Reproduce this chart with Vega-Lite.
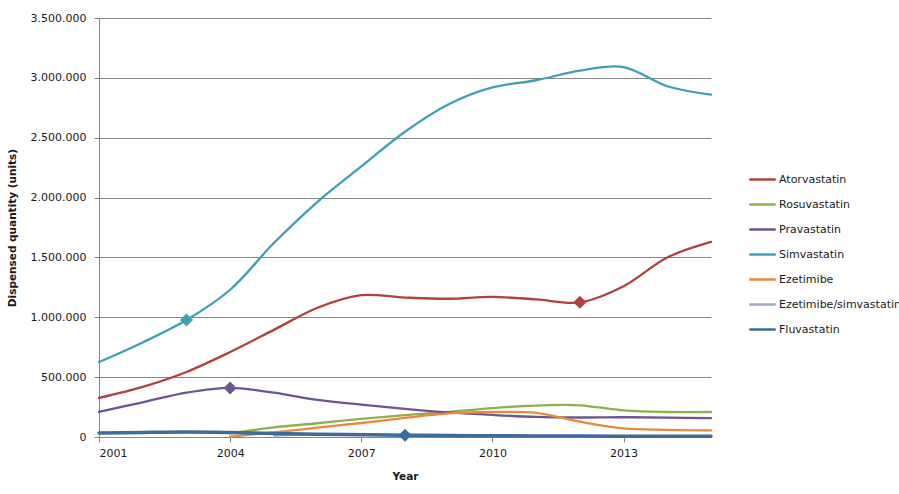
{
  "$schema": "https://vega.github.io/schema/vega-lite/v6.json",
  "autosize": {"type": "none"},
  "width": 612,
  "height": 419,
  "padding": {"left": 99, "top": 18, "right": 188, "bottom": 57},
  "background": "white",
  "datasets": {
    "dispensed": [
      {"year": 2001, "drug": "Atorvastatin", "qty": 326000},
      {"year": 2002, "drug": "Atorvastatin", "qty": 418000},
      {"year": 2003, "drug": "Atorvastatin", "qty": 543000},
      {"year": 2004, "drug": "Atorvastatin", "qty": 710000},
      {"year": 2005, "drug": "Atorvastatin", "qty": 895000},
      {"year": 2006, "drug": "Atorvastatin", "qty": 1080000},
      {"year": 2007, "drug": "Atorvastatin", "qty": 1185000},
      {"year": 2008, "drug": "Atorvastatin", "qty": 1165000},
      {"year": 2009, "drug": "Atorvastatin", "qty": 1155000},
      {"year": 2010, "drug": "Atorvastatin", "qty": 1170000},
      {"year": 2011, "drug": "Atorvastatin", "qty": 1150000},
      {"year": 2012, "drug": "Atorvastatin", "qty": 1125000, "marked": true},
      {"year": 2013, "drug": "Atorvastatin", "qty": 1260000},
      {"year": 2014, "drug": "Atorvastatin", "qty": 1500000},
      {"year": 2015, "drug": "Atorvastatin", "qty": 1630000},

      {"year": 2004, "drug": "Rosuvastatin", "qty": 30000},
      {"year": 2005, "drug": "Rosuvastatin", "qty": 80000},
      {"year": 2006, "drug": "Rosuvastatin", "qty": 115000},
      {"year": 2007, "drug": "Rosuvastatin", "qty": 152000},
      {"year": 2008, "drug": "Rosuvastatin", "qty": 183000},
      {"year": 2009, "drug": "Rosuvastatin", "qty": 209000},
      {"year": 2010, "drug": "Rosuvastatin", "qty": 242000},
      {"year": 2011, "drug": "Rosuvastatin", "qty": 262000},
      {"year": 2012, "drug": "Rosuvastatin", "qty": 265000},
      {"year": 2013, "drug": "Rosuvastatin", "qty": 222000},
      {"year": 2014, "drug": "Rosuvastatin", "qty": 209000},
      {"year": 2015, "drug": "Rosuvastatin", "qty": 209000},

      {"year": 2001, "drug": "Pravastatin", "qty": 209000},
      {"year": 2002, "drug": "Pravastatin", "qty": 290000},
      {"year": 2003, "drug": "Pravastatin", "qty": 370000},
      {"year": 2004, "drug": "Pravastatin", "qty": 410000, "marked": true},
      {"year": 2005, "drug": "Pravastatin", "qty": 370000},
      {"year": 2006, "drug": "Pravastatin", "qty": 310000},
      {"year": 2007, "drug": "Pravastatin", "qty": 270000},
      {"year": 2008, "drug": "Pravastatin", "qty": 235000},
      {"year": 2009, "drug": "Pravastatin", "qty": 205000},
      {"year": 2010, "drug": "Pravastatin", "qty": 184000},
      {"year": 2011, "drug": "Pravastatin", "qty": 168000},
      {"year": 2012, "drug": "Pravastatin", "qty": 163000},
      {"year": 2013, "drug": "Pravastatin", "qty": 165000},
      {"year": 2014, "drug": "Pravastatin", "qty": 162000},
      {"year": 2015, "drug": "Pravastatin", "qty": 158000},

      {"year": 2001, "drug": "Simvastatin", "qty": 626000},
      {"year": 2002, "drug": "Simvastatin", "qty": 790000},
      {"year": 2003, "drug": "Simvastatin", "qty": 977000, "marked": true},
      {"year": 2004, "drug": "Simvastatin", "qty": 1230000},
      {"year": 2005, "drug": "Simvastatin", "qty": 1620000},
      {"year": 2006, "drug": "Simvastatin", "qty": 1965000},
      {"year": 2007, "drug": "Simvastatin", "qty": 2260000},
      {"year": 2008, "drug": "Simvastatin", "qty": 2550000},
      {"year": 2009, "drug": "Simvastatin", "qty": 2780000},
      {"year": 2010, "drug": "Simvastatin", "qty": 2920000},
      {"year": 2011, "drug": "Simvastatin", "qty": 2980000},
      {"year": 2012, "drug": "Simvastatin", "qty": 3060000},
      {"year": 2013, "drug": "Simvastatin", "qty": 3090000},
      {"year": 2014, "drug": "Simvastatin", "qty": 2930000},
      {"year": 2015, "drug": "Simvastatin", "qty": 2860000},

      {"year": 2004, "drug": "Ezetimibe", "qty": 4000},
      {"year": 2005, "drug": "Ezetimibe", "qty": 38000},
      {"year": 2006, "drug": "Ezetimibe", "qty": 78000},
      {"year": 2007, "drug": "Ezetimibe", "qty": 117000},
      {"year": 2008, "drug": "Ezetimibe", "qty": 160000},
      {"year": 2009, "drug": "Ezetimibe", "qty": 198000},
      {"year": 2010, "drug": "Ezetimibe", "qty": 209000},
      {"year": 2011, "drug": "Ezetimibe", "qty": 202000},
      {"year": 2012, "drug": "Ezetimibe", "qty": 128000},
      {"year": 2013, "drug": "Ezetimibe", "qty": 72000},
      {"year": 2014, "drug": "Ezetimibe", "qty": 60000},
      {"year": 2015, "drug": "Ezetimibe", "qty": 55000},

      {"year": 2005, "drug": "Ezetimibe/simvastatin", "qty": 12000},
      {"year": 2006, "drug": "Ezetimibe/simvastatin", "qty": 20000},
      {"year": 2007, "drug": "Ezetimibe/simvastatin", "qty": 18000},
      {"year": 2008, "drug": "Ezetimibe/simvastatin", "qty": 14000},
      {"year": 2009, "drug": "Ezetimibe/simvastatin", "qty": 10000},
      {"year": 2010, "drug": "Ezetimibe/simvastatin", "qty": 8000},
      {"year": 2011, "drug": "Ezetimibe/simvastatin", "qty": 6000},
      {"year": 2012, "drug": "Ezetimibe/simvastatin", "qty": 5000},
      {"year": 2013, "drug": "Ezetimibe/simvastatin", "qty": 4000},
      {"year": 2014, "drug": "Ezetimibe/simvastatin", "qty": 3000},
      {"year": 2015, "drug": "Ezetimibe/simvastatin", "qty": 3000},

      {"year": 2001, "drug": "Fluvastatin", "qty": 33000},
      {"year": 2002, "drug": "Fluvastatin", "qty": 38000},
      {"year": 2003, "drug": "Fluvastatin", "qty": 41000},
      {"year": 2004, "drug": "Fluvastatin", "qty": 37000},
      {"year": 2005, "drug": "Fluvastatin", "qty": 30000},
      {"year": 2006, "drug": "Fluvastatin", "qty": 24000},
      {"year": 2007, "drug": "Fluvastatin", "qty": 19000},
      {"year": 2008, "drug": "Fluvastatin", "qty": 15000, "marked": true},
      {"year": 2009, "drug": "Fluvastatin", "qty": 12000},
      {"year": 2010, "drug": "Fluvastatin", "qty": 10000},
      {"year": 2011, "drug": "Fluvastatin", "qty": 9000},
      {"year": 2012, "drug": "Fluvastatin", "qty": 8000},
      {"year": 2013, "drug": "Fluvastatin", "qty": 7000},
      {"year": 2014, "drug": "Fluvastatin", "qty": 6000},
      {"year": 2015, "drug": "Fluvastatin", "qty": 6000}
    ]
  },
  "data": {"name": "dispensed"},
  "encoding": {
    "x": {
      "field": "year",
      "type": "quantitative",
      "scale": {"domain": [2001, 2015], "nice": false, "zero": false},
      "axis": {
        "title": "Year",
        "values": [2001, 2004, 2007, 2010, 2013],
        "format": "d",
        "grid": false,
        "tickSize": 5,
        "labelPadding": 5,
        "titlePadding": 13
      }
    },
    "y": {
      "field": "qty",
      "type": "quantitative",
      "scale": {"domain": [0, 3500000], "nice": false},
      "axis": {
        "title": "Dispensed quantity (units)",
        "values": [0, 500000, 1000000, 1500000, 2000000, 2500000, 3000000, 3500000],
        "format": ",d",
        "grid": true,
        "tickSize": 5,
        "labelPadding": 8,
        "titlePadding": 13
      }
    }
  },
  "layer": [
    {
      "mark": {"type": "line", "interpolate": "catmull-rom", "strokeCap": "round"},
      "encoding": {
        "color": {
          "field": "drug",
          "type": "nominal",
          "scale": {
            "domain": ["Atorvastatin", "Rosuvastatin", "Pravastatin", "Simvastatin", "Ezetimibe", "Ezetimibe/simvastatin", "Fluvastatin"],
            "range": ["#B0413E", "#8FB04C", "#6E5493", "#3FA0B5", "#E8893C", "#A4AAC6", "#3D6C9C"]
          },
          "legend": {
            "title": null,
            "orient": "none",
            "legendX": 649,
            "legendY": 147,
            "symbolType": "stroke",
            "symbolSize": 700,
            "symbolStrokeWidth": 2.5,
            "rowPadding": 5,
            "labelOffset": 2,
            "labelFontSize": 11,
            "labelColor": "#1a1a1a",
            "labelLimit": 400,
            "padding": 0
          }
        },
        "strokeWidth": {
          "condition": {"test": "datum.drug === 'Fluvastatin'", "value": 3.5},
          "value": 2.3
        }
      }
    },
    {
      "transform": [{"filter": "datum.marked === true"}],
      "mark": {"type": "point", "shape": "diamond", "size": 170, "filled": true, "opacity": 1},
      "encoding": {
        "fill": {
          "field": "drug",
          "type": "nominal",
          "scale": {
            "domain": ["Atorvastatin", "Rosuvastatin", "Pravastatin", "Simvastatin", "Ezetimibe", "Ezetimibe/simvastatin", "Fluvastatin"],
            "range": ["#B0413E", "#8FB04C", "#6E5493", "#3FA0B5", "#E8893C", "#A4AAC6", "#3D6C9C"]
          },
          "legend": null
        }
      }
    }
  ],
  "config": {
    "locale": {
      "number": {"decimal": ",", "thousands": ".", "grouping": [3], "currency": ["", " €"]}
    },
    "font": "DejaVu Sans",
    "view": {"stroke": null},
    "axis": {
      "labelFont": "DejaVu Sans",
      "labelFontSize": 11,
      "labelColor": "#1a1a1a",
      "titleFont": "DejaVu Sans",
      "titleFontSize": 10.5,
      "titleFontWeight": "bold",
      "titleColor": "#1a1a1a",
      "domainColor": "#868686",
      "tickColor": "#868686",
      "gridColor": "#868686",
      "domainWidth": 1,
      "tickWidth": 1,
      "gridWidth": 1
    },
    "legend": {"labelFont": "DejaVu Sans"}
  }
}
